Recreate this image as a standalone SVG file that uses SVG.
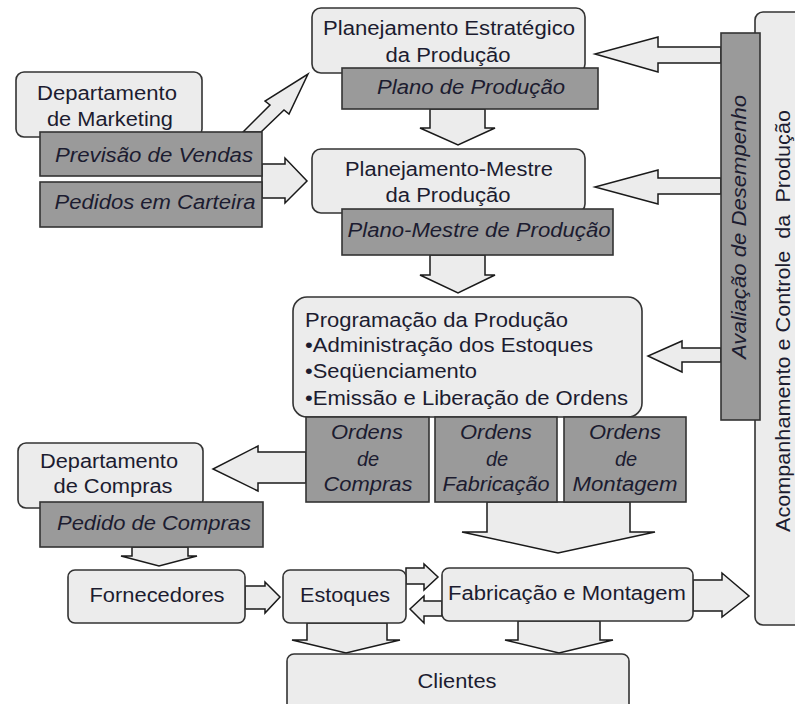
<svg xmlns="http://www.w3.org/2000/svg" width="795" height="704" viewBox="0 0 795 704">
<style>
.lt{fill:#ececec;stroke:#333;stroke-width:1.6}
.dk{fill:#9a9a9a;stroke:#333;stroke-width:1.6}
.ar{fill:#ececec;stroke:#1a1a1a;stroke-width:1.5;stroke-linejoin:miter}
text{font-family:"Liberation Sans",Arial,sans-serif;font-size:20px;fill:#1c1c30}
.c{text-anchor:middle}
.i{font-style:italic}
</style>
<rect width="795" height="704" fill="#fff"/>
<g id="connectors">
<polygon class="ar" points="243,132 270,105 265,101 308,74 289,114 284,110 261,132"/>
<polygon class="ar" points="262,164 285,164 285,158 307,181 285,203 285,198 262,198"/>
<polygon class="ar" points="430,109 485,109 485,128 495,128 458,145 420,128 430,128"/>
<polygon class="ar" points="430,255 485,255 485,275 495,275 458,293 420,275 430,275"/>
<polygon class="ar" points="721,47 658,47 658,37 595,54 658,72 658,63 721,63"/>
<polygon class="ar" points="721,178 658,178 658,170 595,187 658,204 658,194 721,194"/>
<polygon class="ar" points="721,348 682,348 682,341 648,356 682,372 682,362 721,362"/>
<polygon class="ar" points="306,452 258,452 258,446 213,469 258,491 258,483 306,483"/>
<polygon class="ar" points="487,502 630,502 630,532 655,532 558,553 462,532 487,532"/>
<polygon class="ar" points="132,547 188,547 188,556 197,556 159,566 121,556 132,556"/>
<polygon class="ar" points="245,586 265,586 265,582 280,597 265,613 265,609 245,609"/>
<polygon class="ar" points="406,568 424,568 424,564 438,577 424,590 424,584 406,584"/>
<polygon class="ar" points="442,601 424,601 424,596 410,609 424,623 424,616 442,616"/>
<polygon class="ar" points="693,580 722,580 722,573 749,596 722,617 722,611 693,611"/>
<polygon class="ar" points="307,623 387,623 387,640 400,640 346,653 292,640 307,640"/>
<polygon class="ar" points="518,621 600,621 600,640 613,640 559,653 505,640 518,640"/>
</g>
<g id="acompanhamento">
<rect class="lt" x="755" y="12" width="60" height="613" rx="8"/>
<text class="c" transform="translate(790,321) rotate(-90)" textLength="422" lengthAdjust="spacingAndGlyphs" style="white-space:pre">Acompanhamento e Controle  da  Produção</text>
</g>
<g id="avaliacao">
<rect class="dk" x="721" y="33" width="39" height="387"/>
<text class="c i" transform="translate(746,227) rotate(-90)" textLength="264" lengthAdjust="spacingAndGlyphs">Avaliação de Desempenho</text>
</g>
<g id="marketing">
<rect class="lt" x="16" y="72" width="186" height="65" rx="8"/>
<text class="c" x="107" y="100" textLength="140" lengthAdjust="spacingAndGlyphs">Departamento</text>
<text class="c" x="110" y="126" textLength="126" lengthAdjust="spacingAndGlyphs">de Marketing</text>
</g>
<g id="previsao">
<rect class="dk" x="40" y="132" width="222" height="44"/>
<text class="c i" x="154" y="162" textLength="198" lengthAdjust="spacingAndGlyphs">Previsão de Vendas</text>
</g>
<g id="pedidos">
<rect class="dk" x="40" y="182" width="222" height="45"/>
<text class="c i" x="155" y="209" textLength="201" lengthAdjust="spacingAndGlyphs">Pedidos em Carteira</text>
</g>
<g id="estrategico">
<rect class="lt" x="312" y="8" width="273" height="65" rx="9"/>
<text class="c" x="449" y="35" textLength="252" lengthAdjust="spacingAndGlyphs">Planejamento Estratégico</text>
<text class="c" x="448" y="62" textLength="125" lengthAdjust="spacingAndGlyphs">da Produção</text>
</g>
<g id="plano">
<rect class="dk" x="342" y="68" width="256" height="41"/>
<text class="c i" x="471" y="94" textLength="188" lengthAdjust="spacingAndGlyphs">Plano de Produção</text>
</g>
<g id="mestre">
<rect class="lt" x="312" y="149" width="273" height="64" rx="9"/>
<text class="c" x="449" y="176" textLength="208" lengthAdjust="spacingAndGlyphs">Planejamento-Mestre</text>
<text class="c" x="448" y="202" textLength="125" lengthAdjust="spacingAndGlyphs">da Produção</text>
</g>
<g id="planomestre">
<rect class="dk" x="342" y="209" width="271" height="46"/>
<text class="c i" x="479" y="237" textLength="263" lengthAdjust="spacingAndGlyphs">Plano-Mestre de Produção</text>
</g>
<g id="programacao">
<rect class="lt" x="293" y="297" width="349" height="120" rx="14"/>
<text x="305" y="327" textLength="263" lengthAdjust="spacingAndGlyphs">Programação da Produção</text>
<text x="305" y="352" textLength="288" lengthAdjust="spacingAndGlyphs">•Administração dos Estoques</text>
<text x="305" y="378" textLength="172" lengthAdjust="spacingAndGlyphs">•Seqüenciamento</text>
<text x="305" y="405" textLength="323" lengthAdjust="spacingAndGlyphs">•Emissão e Liberação de Ordens</text>
</g>
<g id="ordens-compras">
<rect class="dk" x="306" y="417" width="123" height="85"/>
<text class="c i" x="367" y="439" textLength="72" lengthAdjust="spacingAndGlyphs">Ordens</text>
<text class="c i" x="368" y="466">de</text>
<text class="c i" x="368" y="491" textLength="89" lengthAdjust="spacingAndGlyphs">Compras</text>
</g>
<g id="ordens-fabricacao">
<rect class="dk" x="435" y="417" width="122" height="85"/>
<text class="c i" x="496" y="439" textLength="72" lengthAdjust="spacingAndGlyphs">Ordens</text>
<text class="c i" x="497" y="466">de</text>
<text class="c i" x="496" y="491" textLength="107" lengthAdjust="spacingAndGlyphs">Fabricação</text>
</g>
<g id="ordens-montagem">
<rect class="dk" x="564" y="417" width="122" height="85"/>
<text class="c i" x="625" y="439" textLength="72" lengthAdjust="spacingAndGlyphs">Ordens</text>
<text class="c i" x="626" y="466">de</text>
<text class="c i" x="625" y="491" textLength="105" lengthAdjust="spacingAndGlyphs">Montagem</text>
</g>
<g id="compras">
<rect class="lt" x="18" y="443" width="185" height="65" rx="8"/>
<text class="c" x="109" y="468" textLength="138" lengthAdjust="spacingAndGlyphs">Departamento</text>
<text class="c" x="113" y="493" textLength="119" lengthAdjust="spacingAndGlyphs">de Compras</text>
</g>
<g id="pedido-compras">
<rect class="dk" x="40" y="502" width="223" height="45"/>
<text class="c i" x="154" y="530" textLength="194" lengthAdjust="spacingAndGlyphs">Pedido de Compras</text>
</g>
<g id="fornecedores">
<rect class="lt" x="68" y="570" width="177" height="53" rx="7"/>
<text class="c" x="157" y="602" textLength="135" lengthAdjust="spacingAndGlyphs">Fornecedores</text>
</g>
<g id="estoques">
<rect class="lt" x="283" y="570" width="123" height="53" rx="7"/>
<text class="c" x="345" y="602" textLength="90" lengthAdjust="spacingAndGlyphs">Estoques</text>
</g>
<g id="fabricacao">
<rect class="lt" x="442" y="568" width="251" height="53" rx="7"/>
<text class="c" x="567" y="600" textLength="238" lengthAdjust="spacingAndGlyphs">Fabricação e Montagem</text>
</g>
<g id="clientes">
<rect class="lt" x="287" y="654" width="342" height="60" rx="7"/>
<text class="c" x="457" y="688" textLength="79" lengthAdjust="spacingAndGlyphs">Clientes</text>
</g>
</svg>
